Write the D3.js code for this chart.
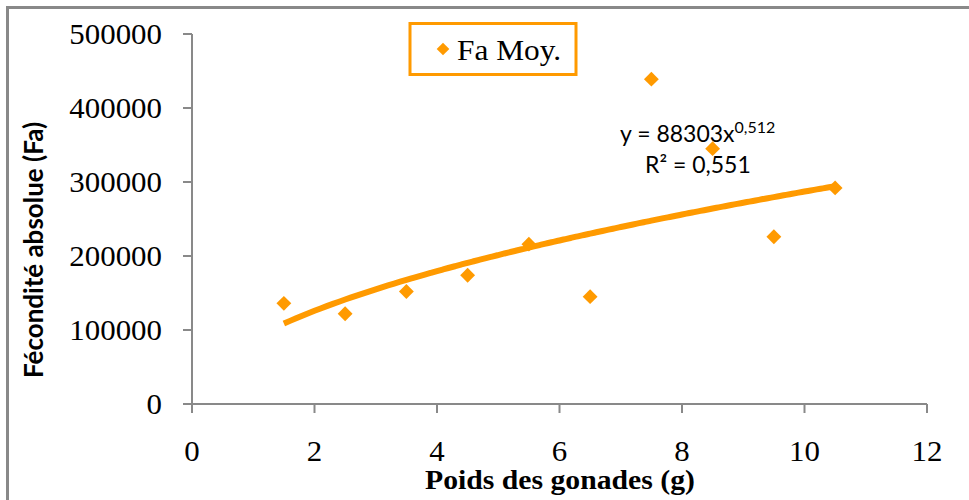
<!DOCTYPE html>
<html>
<head>
<meta charset="utf-8">
<script src="https://cdn.jsdelivr.net/npm/d3@7"></script>
<style>
    body { margin: 0; background: #fff; }
    svg { display: block; }
    .serif { font-family: "Liberation Serif", "Times New Roman", serif; fill: #000; }
    .sans { font-family: Lato, "Open Sans", sans-serif; fill: #000; }
</style>
</head>
<body>
<div id="chart"></div>
<script>
// poids des gonades (g) / fecondite absolue moyenne
var poids = [1.5, 2.5, 3.5, 4.5, 5.5, 6.5, 7.5, 8.5, 9.5, 10.5];
var fecondite = [136000, 122000, 152000, 174000, 216000, 145000, 439000, 345000, 226000, 292000];
var xTicks = [0, 2, 4, 6, 8, 10, 12];
var yTicks = [0, 100000, 200000, 300000, 400000, 500000];
var trendCoef = 88303;
var trendExp = 0.512;
var trendR2 = 0.551;
var seriesName = 'Fa Moy.';

var width = 969, height = 500;
var orange = '#FF9A00';
var axisGrey = '#898989';

var svg = d3.select('#chart').append('svg')
    .attr('width', width)
    .attr('height', height);

// cadre exterieur (coupe a droite et en bas)
svg.append('rect')
    .attr('x', 7.5)
    .attr('y', 7.5)
    .attr('width', 1000)
    .attr('height', 600)
    .attr('fill', 'none')
    .attr('stroke', axisGrey)
    .attr('stroke-width', 3);

var x = d3.scaleLinear().domain([0, 12]).range([192, 927]);
var y = d3.scaleLinear().domain([0, 500000]).range([404, 34]);

// texte un peu etire en largeur comme l'original
var stretched = function(sel, px, py, k) {
    sel.attr('transform', 'translate(' + px + ',' + py + ') scale(' + (k || 1.08) + ',1)');
};

// axe Y
var yAxis = svg.append('g');
yAxis.append('line')
    .attr('x1', x(0)).attr('x2', x(0))
    .attr('y1', y(0)).attr('y2', y(500000))
    .attr('stroke', axisGrey).attr('stroke-width', 2);
yAxis.selectAll('line.tick').data(yTicks).enter()
    .append('line')
    .attr('class', 'tick')
    .attr('x1', x(0) - 9).attr('x2', x(0))
    .attr('y1', function(d) { return y(d); })
    .attr('y2', function(d) { return y(d); })
    .attr('stroke', axisGrey).attr('stroke-width', 2);
yAxis.selectAll('text').data(yTicks).enter()
    .append('text')
    .attr('class', 'serif')
    .attr('text-anchor', 'end')
    .attr('font-size', 30)
    .text(function(d) { return d; })
    .each(function(d) { stretched(d3.select(this), 162, y(d) + 10, 1.03); });

// axe X
var xAxis = svg.append('g');
xAxis.append('line')
    .attr('x1', x(0)).attr('x2', x(12))
    .attr('y1', y(0)).attr('y2', y(0))
    .attr('stroke', axisGrey).attr('stroke-width', 2);
xAxis.selectAll('line.tick').data(xTicks).enter()
    .append('line')
    .attr('class', 'tick')
    .attr('x1', function(d) { return x(d); })
    .attr('x2', function(d) { return x(d); })
    .attr('y1', y(0)).attr('y2', y(0) + 9)
    .attr('stroke', axisGrey).attr('stroke-width', 2);
xAxis.selectAll('text').data(xTicks).enter()
    .append('text')
    .attr('class', 'serif')
    .attr('text-anchor', 'middle')
    .attr('font-size', 30)
    .text(function(d) { return d; })
    .each(function(d) { stretched(d3.select(this), x(d), 461, 1.03); });

// titres
svg.append('text')
    .attr('class', 'serif')
    .attr('text-anchor', 'middle')
    .attr('font-size', 27)
    .attr('font-weight', 'bold')
    .text('Poids des gonades (g)')
    .call(stretched, 560, 489, 1.1);

svg.append('text')
    .attr('class', 'sans')
    .attr('text-anchor', 'middle')
    .attr('font-size', 26)
    .attr('font-weight', 'bold')
    .attr('transform', 'translate(43,250) rotate(-90)')
    .text('Fécondité absolue (Fa)');

// courbe de tendance (puissance)
var trendX = d3.range(1.5, 10.5001, 0.1);
var line = d3.line()
    .x(function(d) { return x(d); })
    .y(function(d) { return y(trendCoef * Math.pow(d, trendExp)); })
    .curve(d3.curveMonotoneX);

svg.append('path')
    .datum(trendX)
    .attr('d', line)
    .attr('fill', 'none')
    .attr('stroke', orange)
    .attr('stroke-width', 6);

// points
var diamond = d3.symbol().type(d3.symbolSquare).size(110);
svg.selectAll('path.point').data(poids).enter()
    .append('path')
    .attr('class', 'point')
    .attr('d', diamond)
    .attr('fill', orange)
    .attr('transform', function(d, i) {
        return 'translate(' + x(d) + ',' + y(fecondite[i]) + ') rotate(45)';
    });

// equation
var eq = svg.append('text')
    .attr('class', 'sans')
    .attr('font-size', 23)
    .attr('x', 620)
    .attr('y', 142);
eq.append('tspan').text('y = ' + trendCoef + 'x');
eq.append('tspan')
    .attr('font-size', 16)
    .attr('dy', -9)
    .text(String(trendExp).replace('.', ','));

svg.append('text')
    .attr('class', 'sans')
    .attr('font-size', 23)
    .attr('x', 645)
    .attr('y', 173)
    .text('R² = ' + String(trendR2).replace('.', ','));

// legende
var legend = svg.append('g');
legend.append('rect')
    .attr('x', 410)
    .attr('y', 23.5)
    .attr('width', 166)
    .attr('height', 51)
    .attr('fill', '#fff')
    .attr('stroke', orange)
    .attr('stroke-width', 3);
legend.append('path')
    .attr('d', d3.symbol().type(d3.symbolSquare).size(80))
    .attr('fill', orange)
    .attr('transform', 'translate(443,49) rotate(45)');
legend.append('text')
    .attr('class', 'serif')
    .attr('font-size', 29)
    .text(seriesName)
    .call(stretched, 457, 60, 1.08);
</script>
</body>
</html>
